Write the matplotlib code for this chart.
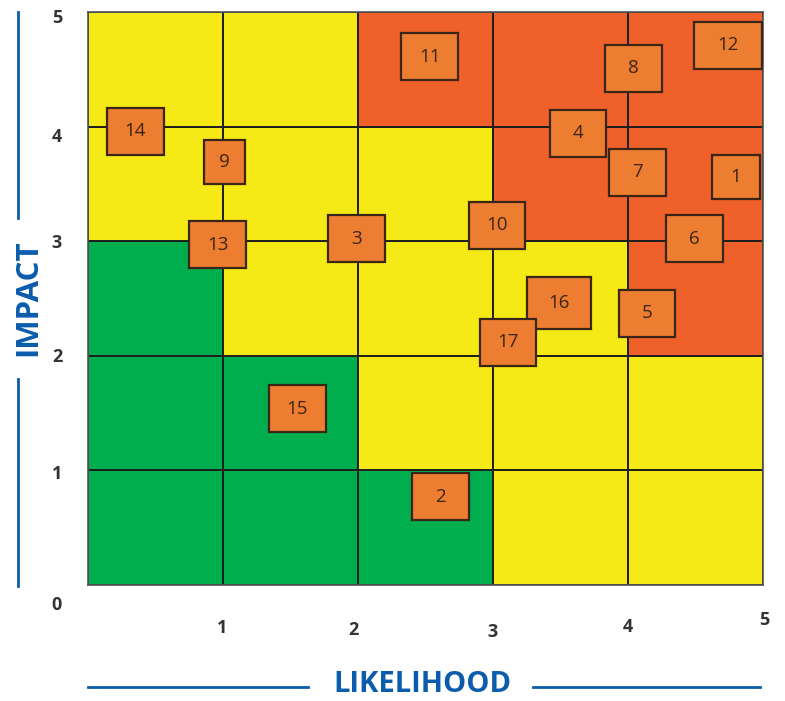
import matplotlib
matplotlib.use("Agg")
import matplotlib.pyplot as plt
from matplotlib.patches import Rectangle

# ---- data ----
# risk level per cell: rows from bottom (impact 0-1) to top (impact 4-5), columns likelihood 0-1 .. 4-5
cell_levels = [
    ["G", "G", "G", "Y", "Y"],
    ["G", "G", "Y", "Y", "Y"],
    ["G", "Y", "Y", "Y", "R"],
    ["Y", "Y", "Y", "R", "R"],
    ["Y", "Y", "R", "R", "R"],
]
risk_ids = [14, 9, 13, 3, 11, 8, 12, 4, 7, 1, 10, 6, 16, 5, 17, 2, 15]
risk_likelihood = [0.35, 1.01, 0.96, 1.99, 2.53, 4.04, 4.74, 3.63, 4.07, 4.80, 3.03, 4.49, 3.49, 4.14, 3.11, 2.61, 1.55]
risk_impact = [3.96, 3.69, 2.97, 3.02, 4.61, 4.51, 4.71, 3.94, 3.60, 3.56, 3.14, 3.02, 2.46, 2.37, 2.12, 0.77, 1.54]
x_ticks = [1, 2, 3, 4, 5]
y_ticks = [0, 1, 2, 3, 4, 5]

# ---- style ----
level_colors = {"G": "#00AE4E", "Y": "#F5E916", "R": "#F0602A"}
box_fill = "#ED7D31"
box_edge = "#3A2616"
blue = "#0B5CAD"
default_size = (0.42, 0.41)
size_override = {9: (0.30, 0.38), 1: (0.36, 0.38), 12: (0.50, 0.41), 16: (0.47, 0.45)}

fig = plt.figure(figsize=(7.85, 7.01), dpi=100)
ax = fig.add_axes([88/785, 1-585/701, (763-88)/785, (585-12)/701])
ax.set_xlim(0, 5)
ax.set_ylim(0, 5)
ax.set_xticks([])
ax.set_yticks([])
for s in ax.spines.values():
    s.set_edgecolor("#555555")
    s.set_linewidth(1.2)

for r, row in enumerate(cell_levels):
    for c, lev in enumerate(row):
        ax.add_patch(Rectangle((c, r), 1, 1, facecolor=level_colors[lev],
                               edgecolor="#1E1E1E", linewidth=1.4, zorder=1))

for rid, x, y in zip(risk_ids, risk_likelihood, risk_impact):
    w, h = size_override.get(rid, default_size)
    ax.add_patch(Rectangle((x - w/2, y - h/2), w, h, facecolor=box_fill,
                           edgecolor=box_edge, linewidth=1.6, zorder=3))
    ax.text(x, y, str(rid), ha="center", va="center", fontsize=13.5,
            family="Open Sans", color="#3A2616", zorder=4)

# tick labels
tick_font = dict(fontsize=13, fontweight="bold", color="#333333", family="Open Sans")
y_pix = {0: 605, 1: 474, 2: 357, 3: 243, 4: 137, 5: 18}
for v in y_ticks:
    fig.text(57/785, 1 - y_pix[v]/701, str(v), ha="center", va="center", **tick_font)
x_pix = {1: (222, 628), 2: (353, 630), 3: (492, 632), 4: (628, 627), 5: (764, 620)}
for v in x_ticks:
    px, py = x_pix[v]
    fig.text(px/785, 1 - py/701, str(v), ha="center", va="center", **tick_font)

# axis titles with lines
fig.text(422/785, 1 - 685/701, "LIKELIHOOD", ha="center", va="center",
         fontsize=21, fontweight="bold", color=blue, family="Open Sans")
fig.add_artist(plt.Line2D([88/785, 308/785], [1-687/701, 1-687/701], color=blue, lw=2))
fig.add_artist(plt.Line2D([533/785, 760/785], [1-687/701, 1-687/701], color=blue, lw=2))

fig.text(28/785, 1 - 298/701, "IMPACT", ha="center", va="center", rotation=90,
         fontsize=22.5, fontweight="bold", color=blue, family="Open Sans")
fig.add_artist(plt.Line2D([18/785, 18/785], [1-12/701, 1-218/701], color=blue, lw=2))
fig.add_artist(plt.Line2D([18/785, 18/785], [1-379/701, 1-586/701], color=blue, lw=2))

fig.savefig("out.png", dpi=100)
